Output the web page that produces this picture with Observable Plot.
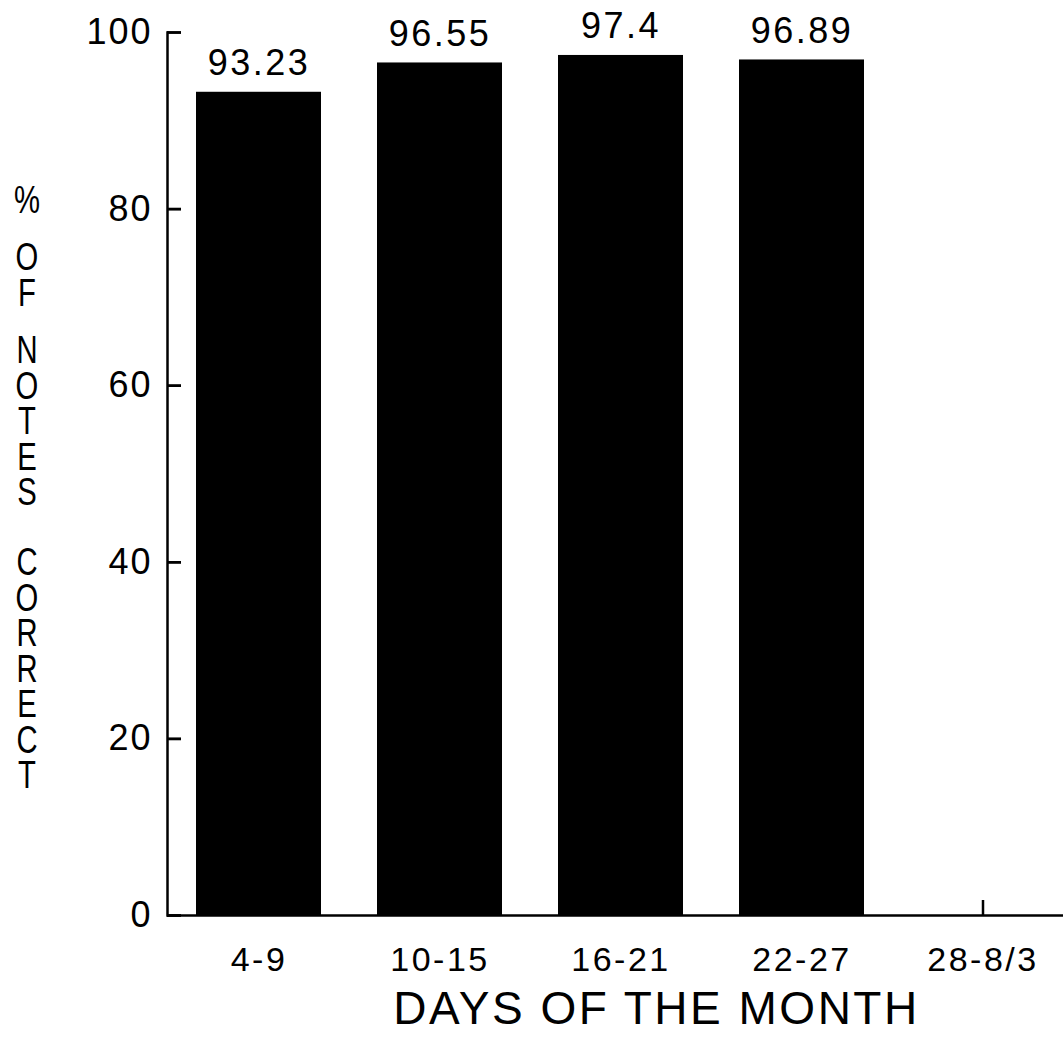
<!DOCTYPE html>
<html><head><meta charset="utf-8">
<script src="https://cdn.jsdelivr.net/npm/d3@7"></script>
<script src="https://cdn.jsdelivr.net/npm/@observablehq/plot@0.6"></script>
<style>
body{margin:0;background:#fff;}
#wrap{position:relative;width:1063px;height:1041px;font-family:"Liberation Sans",Arial,sans-serif;}
.ygrp{position:absolute;left:9px;width:36px;text-align:center;font-size:39px;line-height:35.5px;color:#000;}
.ygrp span{display:block;transform:scaleX(0.75);}
svg [aria-label="y-axis tick label"]{letter-spacing:2px;}
svg [aria-label="x-axis tick label"]{letter-spacing:2.5px;}
svg [aria-label="text"]{letter-spacing:2.5px;}
</style></head><body>
<div id="wrap"></div>
<script>
const categories = ["4-9", "10-15", "16-21", "22-27", "28-8/3"];
const barCategories = ["4-9", "10-15", "16-21", "22-27"];
const values = [93.23, 96.55, 97.4, 96.89];
const valueLabels = ["93.23", "96.55", "97.4", "96.89"];
const yTicks = [0, 20, 40, 60, 80, 100];
const xLabel = "DAYS OF THE MONTH";
const yLabelGroups = ["%", "OF", "NOTES", "CORRECT"];

const font = '"Liberation Sans", Arial, sans-serif';
const W = 1063, H = 1041, mL = 167, mR = 0, tickLen = 14;
const data = barCategories.map((c, i) => ({cat: c, value: values[i], label: valueLabels[i]}));

const chart = Plot.plot({
  width: W, height: H,
  marginLeft: mL, marginRight: mR, marginTop: 32, marginBottom: 126,
  style: {fontFamily: font, color: "black", background: "white", overflow: "hidden"},
  x: {domain: categories, range: [167, 1074], paddingInner: 0.31, paddingOuter: 0.155},
  y: {domain: [0, 100]},
  marks: [
    Plot.ruleX(categories, {x: d => d, y1: 0, y2: 0, insetTop: -15, strokeWidth: 2.5}),
    Plot.ruleY(yTicks, {y: d => d, insetRight: W - mL - mR - tickLen, strokeWidth: 2.5}),
    Plot.barY(data, {x: "cat", y: "value", fill: "black"}),
    Plot.frame({anchor: "left", strokeWidth: 2.5}),
    Plot.ruleY([0], {strokeWidth: 2.5}),
    Plot.axisY({ticks: yTicks, tickSize: tickLen, dx: tickLen, tickFormat: () => "", strokeWidth: 2.5, label: null}),
    Plot.axisY({ticks: yTicks, tickSize: 0, tickPadding: 15, fontSize: 36, label: null}),
    Plot.axisX({tickSize: 0, tickPadding: 31, fontSize: 34, label: null}),
    Plot.text(data, {x: "cat", y: "value", text: "label", dy: -17, lineAnchor: "bottom", fontSize: 36}),
    Plot.text([xLabel], {text: d => d, frameAnchor: "bottom", dx: 41, dy: 76, lineAnchor: "top", fontSize: 46})
  ]
});
const wrap = document.getElementById("wrap");
wrap.appendChild(chart);

const groupTops = [182, 239, 332, 544];
yLabelGroups.forEach((g, i) => {
  const div = document.createElement("div");
  div.className = "ygrp";
  div.style.top = groupTops[i] + "px";
  for (const ch of g) {
    const s = document.createElement("span");
    s.textContent = ch;
    div.appendChild(s);
  }
  wrap.appendChild(div);
});
</script>
</body></html>
